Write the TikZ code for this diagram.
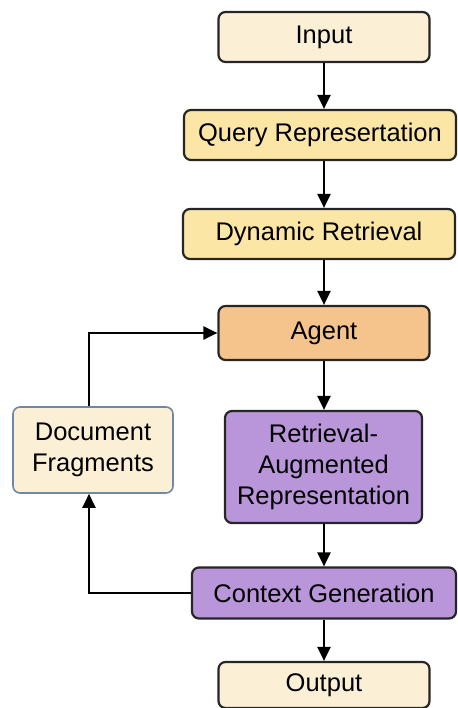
\documentclass[tikz,border=0pt]{standalone}
\usepackage{fontspec}
\setmainfont{Liberation Sans}
\usetikzlibrary{arrows.meta}

\definecolor{creamfill}{HTML}{FBF0D6}
\definecolor{yellowfill}{HTML}{FCE6A6}
\definecolor{orangefill}{HTML}{F5C48C}
\definecolor{purplefill}{HTML}{B995DA}
\definecolor{fragborder}{HTML}{6F88A8}

\tikzset{
    box/.style={draw=black!85, line width=2.2pt, rounded corners=7pt, align=center,
        font=\fontsize{25.5}{31}\selectfont, inner sep=0pt},
    flow/.style={line width=2.2pt, -{Triangle[length=14pt,width=13pt]}}
}

\begin{document}
\begin{tikzpicture}[x=1pt,y=-1pt]
        \useasboundingbox (0,0) rectangle (457,708);
        \node[box, fill=creamfill, minimum width=211, minimum height=50] (in) at (324,37) {Input};
        \node[box, fill=yellowfill, minimum width=272, minimum height=50] (qr) at (320,135) {Query Represertation};
        \node[box, fill=yellowfill, minimum width=272, minimum height=50] (dr) at (319,234) {Dynamic Retrieval};
        \node[box, fill=orangefill, minimum width=211, minimum height=54] (ag) at (324,333) {Agent};
        \node[box, fill=creamfill, draw=fragborder, line width=1.6pt, minimum width=160, minimum height=86] (df) at (93,450) {Document\\Fragments};
        \node[box, fill=purplefill, minimum width=197, minimum height=112] (ra) at (323.5,467) {Retrieval-\\Augmented\\Representation};
        \node[box, fill=purplefill, minimum width=264, minimum height=51] (cg) at (324,593) {Context Generation};
        \node[box, fill=creamfill, minimum width=211, minimum height=46] (out) at (324,685) {Output};
        \draw[flow] (in) -- (qr.north -| in);
        \draw[flow] (qr.south -| in) -- (dr.north -| in);
        \draw[flow] (dr.south -| in) -- (ag);
        \draw[flow] (ag) -- (ra.north -| ag);
        \draw[flow] (ra.south -| ag) -- (cg);
        \draw[flow] (cg) -- (out);
        % feedback loop through the fragments
        \draw[flow] (cg.west) -| (df.south -| 89,0);
        \draw[flow] (df.north -| 89,0) |- (ag.west);
    \end{tikzpicture}
\end{document}
